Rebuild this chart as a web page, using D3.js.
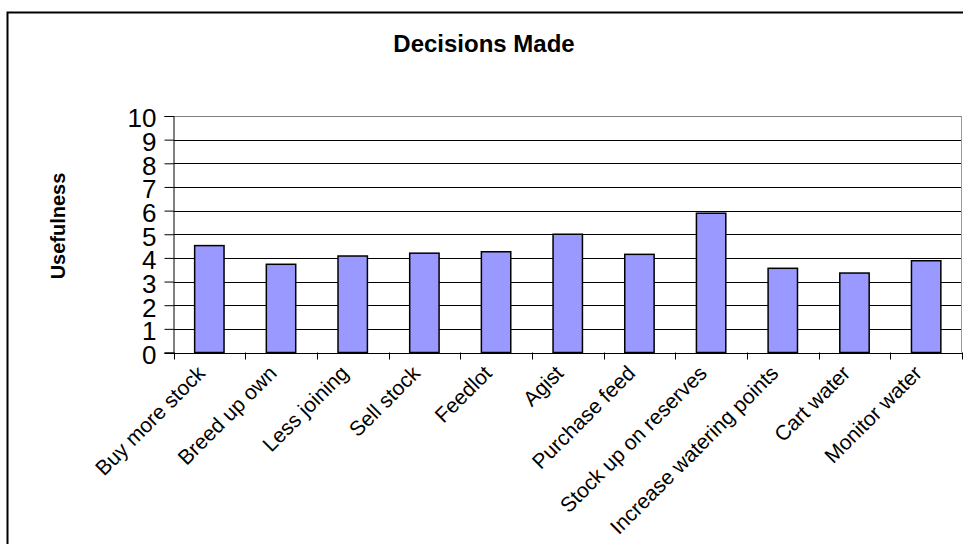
<!DOCTYPE html>
<html>
<head>
<meta charset="utf-8">
<script src="https://cdn.jsdelivr.net/npm/d3@7"></script>
<style>
  html, body { margin: 0; padding: 0; background: #fff; }
  svg { display: block; font-family: "Liberation Sans", Arial, Helvetica, sans-serif; }
</style>
</head>
<body>
<svg id="chart" width="963" height="544"></svg>
<script>
// Mean usefulness rating for each drought decision
const categories = [
  "Buy more stock", "Breed up own", "Less joining", "Sell stock", "Feedlot",
  "Agist", "Purchase feed", "Stock up on reserves", "Increase watering points",
  "Cart water", "Monitor water"
];
const usefulness = [4.52, 3.73, 4.08, 4.2, 4.26, 5.0, 4.15, 5.89, 3.56, 3.36, 3.88];
const yTicks = [0, 1, 2, 3, 4, 5, 6, 7, 8, 9, 10];

const svg = d3.select("#chart");
const plot = { left: 173.5, right: 962, top: 116, bottom: 352.5 };

// outer chart frame (runs past the right and bottom edges)
svg.append("rect")
  .attr("x", 7.5).attr("y", 12.5)
  .attr("width", 1000).attr("height", 600)
  .attr("fill", "#fff").attr("stroke", "#000").attr("stroke-width", 2);

const y = d3.scaleLinear().domain([0, 10]).range([plot.bottom, plot.top]);
const xCat = d3.scaleBand().domain(categories).range([plot.left, plot.right]).padding(0);
const xBar = d3.scaleBand().domain(categories).range([plot.left, plot.right])
  .paddingInner(0.59).paddingOuter(0.295);

// horizontal gridlines
svg.append("g").selectAll("line").data(yTicks.filter(t => t > 0)).join("line")
  .attr("x1", plot.left).attr("x2", plot.right)
  .attr("y1", d => Math.round(y(d)) + 0.5).attr("y2", d => Math.round(y(d)) + 0.5)
  .attr("stroke", d => d === 10 ? "#808080" : "#000").attr("stroke-width", 1);

// right edge of plot area
svg.append("line")
  .attr("x1", plot.right - 0.5).attr("x2", plot.right - 0.5)
  .attr("y1", Math.round(y(10)) + 0.5).attr("y2", plot.bottom)
  .attr("stroke", "#999").attr("stroke-width", 1);

// bars
svg.append("g").selectAll("rect").data(categories).join("rect")
  .attr("x", d => xBar(d))
  .attr("width", xBar.bandwidth())
  .attr("y", (d, i) => y(usefulness[i]))
  .attr("height", (d, i) => y(0) - y(usefulness[i]))
  .attr("fill", "#9999ff")
  .attr("stroke", "#000").attr("stroke-width", 1.5);

// y axis
const yAxis = d3.axisLeft(y).tickValues(yTicks).tickSize(9).tickPadding(8)
  .tickFormat(d3.format("d"));
const gy = svg.append("g").attr("transform", `translate(${plot.left},0)`).call(yAxis);
gy.select(".domain").attr("stroke", "#000").attr("stroke-width", 1);
gy.selectAll(".tick line").attr("stroke", "#000");
gy.selectAll(".tick text")
  .attr("font-size", 26).attr("fill", "#000").attr("dy", "0.42em")
  .style("font-family", "'Liberation Sans', Arial, sans-serif");

// x axis baseline and tick marks at category boundaries
svg.append("line")
  .attr("x1", plot.left - 9).attr("x2", plot.right)
  .attr("y1", Math.round(y(0)) + 0.5).attr("y2", Math.round(y(0)) + 0.5)
  .attr("stroke", "#000").attr("stroke-width", 1);
const boundaries = categories.map(c => xCat(c)).concat([plot.right]);
svg.append("g").selectAll("line").data(boundaries).join("line")
  .attr("x1", d => Math.round(d) + 0.5).attr("x2", d => Math.round(d) + 0.5)
  .attr("y1", y(0)).attr("y2", y(0) + 7)
  .attr("stroke", "#000").attr("stroke-width", 1);

// rotated category labels
svg.append("g").selectAll("text").data(categories).join("text")
  .attr("transform", d => `translate(${xCat(d) + xCat.bandwidth() / 2 - 3},${y(0) + 22}) rotate(-45)`)
  .attr("text-anchor", "end")
  .attr("font-size", 21)
  .attr("fill", "#000")
  .text(d => d);

// axis title
svg.append("text")
  .attr("transform", `translate(65,226) rotate(-90)`)
  .attr("text-anchor", "middle")
  .attr("font-size", 20).attr("font-weight", "bold")
  .text("Usefulness");

// chart title
svg.append("text")
  .attr("x", 484).attr("y", 52)
  .attr("text-anchor", "middle")
  .attr("font-size", 24).attr("font-weight", "bold")
  .text("Decisions Made");
</script>
</body>
</html>
